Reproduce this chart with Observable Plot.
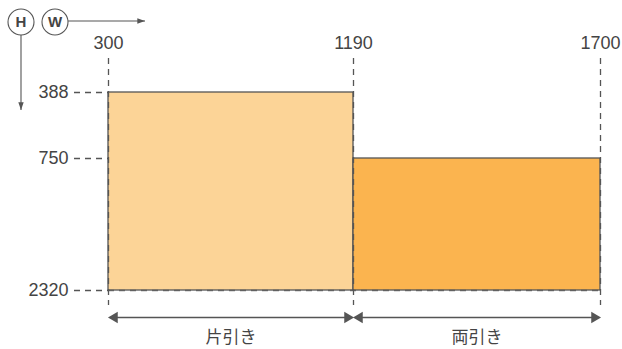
<!DOCTYPE html>
<html>
<head>
<meta charset="utf-8">
<script src="https://cdn.jsdelivr.net/npm/d3@7"></script>
<script src="https://cdn.jsdelivr.net/npm/@observablehq/plot@0.6"></script>
<style>
  html, body { margin: 0; padding: 0; background: #fff; }
  #wrap { position: relative; width: 622px; height: 349px; }
  #wrap svg { position: absolute; left: 0; top: 0; }
</style>
</head>
<body>
<div id="wrap"></div>
<script>
// ---- data ----
const wTicks = [300, 1190, 1700];          // width breakpoints (top axis)
const hTicks = [388, 750, 2320];           // height breakpoints (left axis)
const segNames = ["片引き", "両引き"];
const segFrom  = [300, 1190];
const segTo    = [1190, 1700];
const segTopH  = [388, 750];
const segFills = ["#FCD497", "#FBB44F"];

const segments = segNames.map((name, i) => ({
  name, from: segFrom[i], to: segTo[i], top: segTopH[i], bottom: hTicks[hTicks.length - 1], fill: segFills[i]
}));
const maxH = d3.max(hTicks);
const minW = d3.min(wTicks), maxW = d3.max(wTicks);

const ink = "#555";
const numFont = "'Liberation Sans', Arial, sans-serif";
const dash = "6,5";

const chart = Plot.plot({
  width: 622,
  height: 349,
  marginTop: 58,
  marginBottom: 44,
  marginLeft: 74,
  marginRight: 22,
  style: { background: "transparent", overflow: "visible" },
  x: { type: "linear", domain: wTicks, range: [108, 353, 600], axis: null },
  y: { type: "linear", domain: hTicks, range: [92, 158, 290], axis: null },
  marks: [
    // rectangles
    Plot.rect(segments, { x1: "from", x2: "to", y1: "top", y2: "bottom", fill: "fill", stroke: ink, strokeWidth: 1.3 }),
    // short dashed leaders from the height labels to the chart
    Plot.ruleY(hTicks, { y: d => d, x1: minW, x2: minW, insetLeft: -34, stroke: ink, strokeWidth: 1.3, strokeDasharray: dash }),
    // dashed base line at the full height
    Plot.ruleY([maxH], { y: d => d, x1: minW, x2: maxW, stroke: ink, strokeWidth: 1.3, strokeDasharray: dash, strokeOpacity: 0.8 }),
    // vertical dashed guide lines
    Plot.ruleX(wTicks, { x: d => d, stroke: ink, strokeWidth: 1.3, strokeDasharray: dash }),
    // tick labels
    Plot.text(wTicks, { x: d => d, text: d => String(d), frameAnchor: "top", lineAnchor: "middle", dy: -15, fontSize: 18, fill: "#444", fontFamily: numFont }),
    Plot.text(hTicks, { y: d => d, text: d => String(d), frameAnchor: "left", textAnchor: "end", lineAnchor: "middle", dx: -6, fontSize: 18, fill: "#444", fontFamily: numFont }),
    // dimension arrows under the rects
    Plot.ruleY(segments, { y: "bottom", x1: "from", x2: "to", dy: 27, insetLeft: 3, insetRight: 3, stroke: ink, strokeWidth: 1.3 }),
    Plot.dot(segments, { x: "from", y: "bottom", dy: 27, dx: 6, symbol: "triangle", rotate: -90, r: 4.2, fill: ink, stroke: "none" }),
    Plot.dot(segments, { x: "to", y: "bottom", dy: 27, dx: -6, symbol: "triangle", rotate: 90, r: 4.2, fill: ink, stroke: "none" }),
    // segment labels
    Plot.text(segments, { x: d => (d.from + d.to) / 2, text: "name", frameAnchor: "bottom", lineAnchor: "middle", dy: 32, fontSize: 17, fill: "#444",
      fontFamily: "'Noto Sans CJK JP', sans-serif" })
  ]
});
document.getElementById("wrap").appendChild(chart);

// ---- H / W axis direction glyphs (legend-like header) ----
const g = d3.select("#wrap").append("svg").attr("width", 622).attr("height", 349).style("pointer-events", "none");
const defs = g.append("defs");
defs.append("marker").attr("id", "ah").attr("viewBox", "0 0 10 10").attr("refX", 10).attr("refY", 5)
  .attr("markerWidth", 7).attr("markerHeight", 7).attr("orient", "auto")
  .append("path").attr("d", "M0,1.5L10,5L0,8.5Z").attr("fill", ink);
const icons = [{ k: "H", cx: 21, cy: 22 }, { k: "W", cx: 55, cy: 22 }];
icons.forEach(d => {
  g.append("circle").attr("cx", d.cx).attr("cy", d.cy).attr("r", 13).attr("fill", "#fff").attr("stroke", ink).attr("stroke-width", 1.1);
  g.append("text").attr("x", d.cx).attr("y", d.cy).attr("text-anchor", "middle").attr("dy", "0.36em")
    .attr("font-family", numFont).attr("font-weight", "bold").attr("font-size", 15).attr("fill", "#444").text(d.k);
});
g.append("line").attr("x1", 68).attr("y1", 21).attr("x2", 145).attr("y2", 21).attr("stroke", ink).attr("stroke-width", 1.1).attr("marker-end", "url(#ah)");
g.append("line").attr("x1", 21).attr("y1", 35).attr("x2", 21).attr("y2", 110).attr("stroke", ink).attr("stroke-width", 1.1).attr("marker-end", "url(#ah)");
</script>
</body>
</html>
